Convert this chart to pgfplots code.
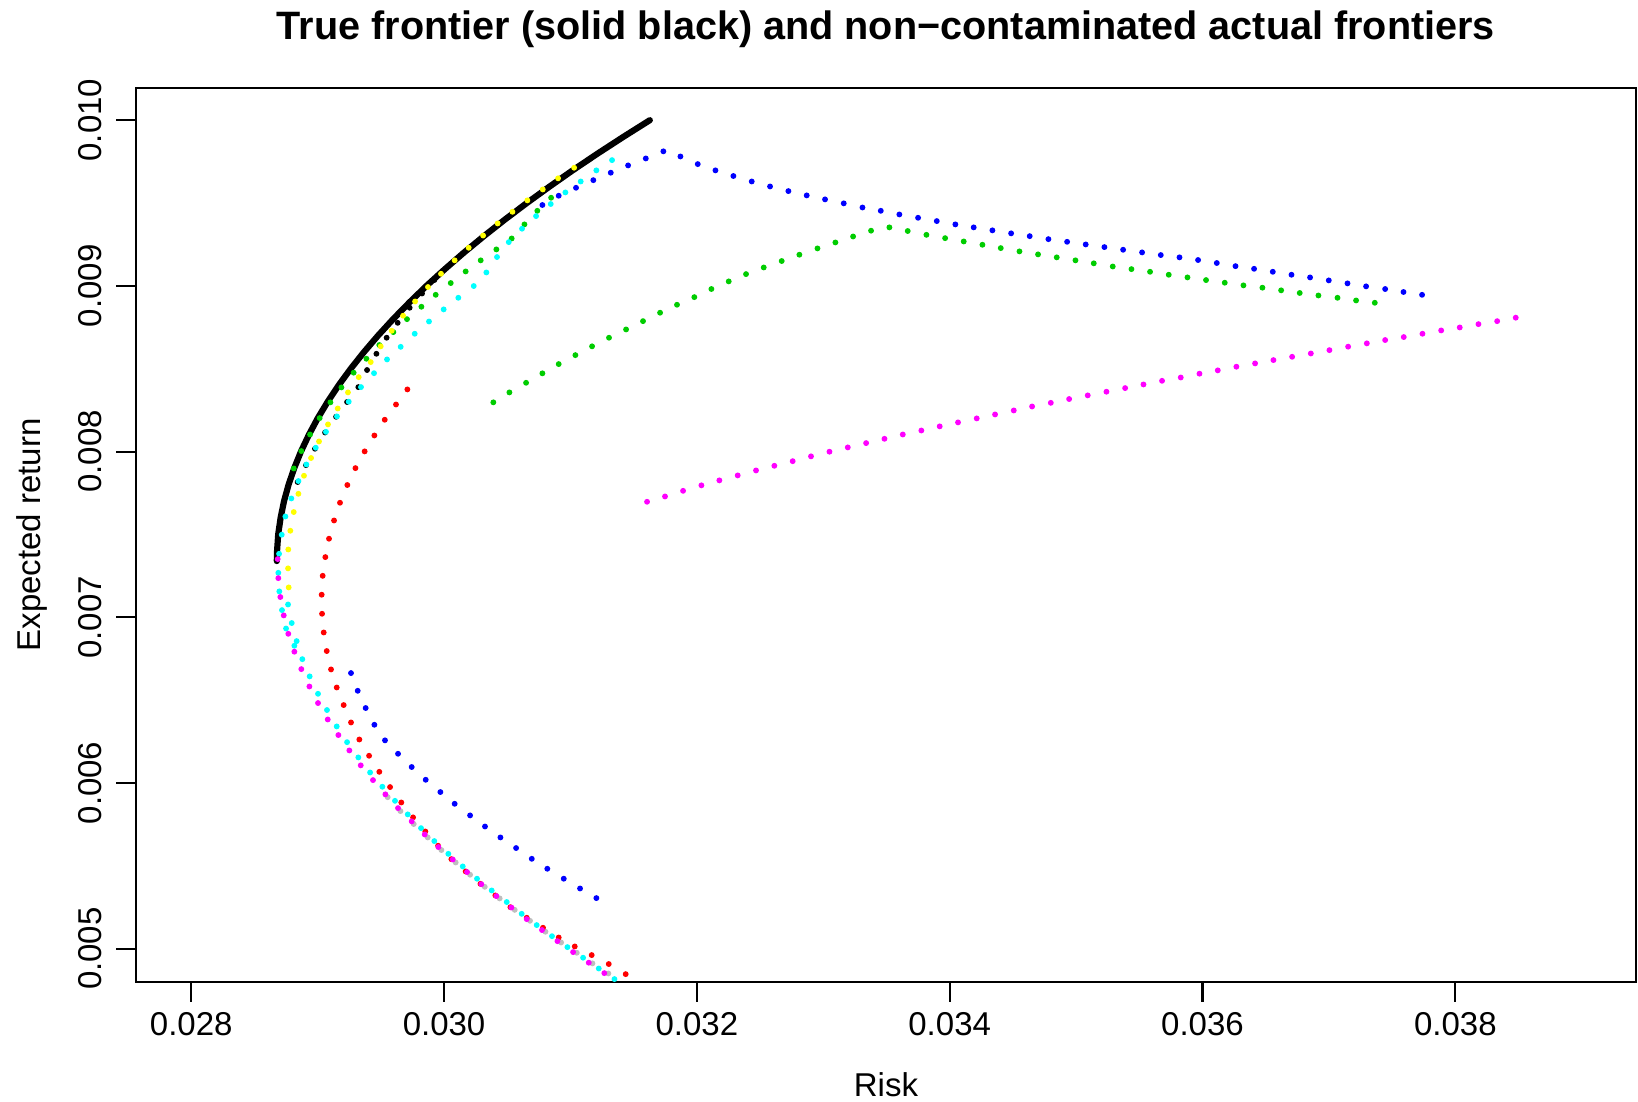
\documentclass[border=0pt]{standalone}
\usepackage{fontspec}
\setmainfont{Liberation Sans}
\usepackage{pgfplots}
\pgfplotsset{compat=1.18}
\definecolor{rgreen}{RGB}{0,205,0}
\definecolor{rgray}{RGB}{190,190,190}
\definecolor{rred}{RGB}{255,0,0}
\definecolor{rblue}{RGB}{0,0,255}
\definecolor{rcyan}{RGB}{0,255,255}
\definecolor{rmagenta}{RGB}{255,0,255}
\definecolor{ryellow}{RGB}{255,255,0}
\begin{document}
\fontsize{12}{14.4}\selectfont
\begin{tikzpicture}
\path[use as bounding box] (-49.4pt,-43.3pt) rectangle (546.2pt,357.1pt);
\begin{axis}[
  at={(0pt,0pt)}, anchor=south west,
  width=545.5pt, height=325.2pt, scale only axis,
  xmin=0.027562, xmax=0.03943, ymin=0.004798, ymax=0.010196,
  axis line style={line width=0.75pt},
  xtick={0.028,0.030,0.032,0.034,0.036,0.038},
  xticklabels={0.028,0.030,0.032,0.034,0.036,0.038},
  ytick={0.005,0.006,0.007,0.008,0.009,0.010},
  yticklabels={0.005,0.006,0.007,0.008,0.009,0.010},
  scaled ticks=false,
  tick align=outside, major tick length=7.1pt, tick pos=left,
  tick style={line width=0.75pt, black},
  xticklabel style={font=\fontsize{12}{14.4}\selectfont, anchor=base, yshift=-12.5pt},
  yticklabel style={font=\fontsize{12}{14.4}\selectfont, rotate=90, anchor=south, inner xsep=0pt, inner ysep=4.9pt},
  title={True frontier (solid black) and non\textminus contaminated actual frontiers},
  every axis title/.style={at={(axis description cs:0.5,1.0538)}, anchor=base, font=\bfseries\fontsize{14.4}{17}\selectfont},
  xlabel={Risk},
  ylabel={Expected return},
  every axis x label/.style={at={(axis description cs:0.5,-0.12823)}, anchor=base, font=\fontsize{12}{14.4}\selectfont},
  every axis y label/.style={at={(axis description cs:-0.06325,0.5)}, rotate=90, anchor=base, font=\fontsize{12}{14.4}\selectfont},
  mark size=0.85pt,
]
% true frontier
\addplot[black, line width=2.25pt, line cap=round, line join=round, no marks] coordinates {
(0.028677,0.007339)(0.028679,0.0074)(0.028688,0.0075)(0.028707,0.0076)(0.028734,0.0077)
(0.028770,0.0078)(0.028815,0.0079)(0.028868,0.0080)(0.028930,0.0081)(0.029000,0.0082)
(0.029079,0.0083)(0.029166,0.0084)(0.029262,0.0085)(0.029366,0.0086)(0.029478,0.0087)
(0.029598,0.0088)(0.029726,0.0089)(0.029861,0.0090)(0.030005,0.0091)(0.030156,0.0092)
(0.030315,0.0093)(0.030481,0.0094)(0.030655,0.0095)(0.030836,0.0096)(0.031023,0.0097)
(0.031218,0.0098)(0.031420,0.0099)(0.031628,0.0100)};
% black dots
\addplot[only marks, mark=*, black] coordinates {
(0.029923,0.009035)(0.029826,0.008954)(0.029728,0.008868)(0.029633,0.008777)(0.029546,0.008687)
(0.029465,0.008590)(0.029391,0.008492)(0.029322,0.008389)(0.029233,0.008299)(0.029146,0.008210)
(0.029059,0.008115)(0.028979,0.008017)(0.028908,0.007918)(0.028842,0.007816)};
% gray
\addplot[only marks, mark=*, rgray] coordinates {
(0.029554,0.005914)(0.029655,0.005830)(0.029760,0.005752)(0.029871,0.005671)(0.029979,0.005595)
(0.030092,0.005520)(0.030206,0.005446)(0.030322,0.005373)(0.030440,0.005303)(0.030559,0.005234)
(0.030680,0.005168)(0.030802,0.005102)(0.030926,0.005037)(0.031050,0.004975)(0.031174,0.004911)
(0.031300,0.004850)};
% red
\addplot[only marks, mark=*, rred] coordinates {
(0.029710,0.008375)(0.029620,0.008284)(0.029531,0.008192)(0.029449,0.008097)(0.029372,0.008001)
(0.029299,0.007900)(0.029235,0.007798)(0.029177,0.007691)(0.029130,0.007584)(0.029090,0.007474)
(0.029061,0.007363)(0.029040,0.007250)(0.029032,0.007136)(0.029035,0.007021)(0.029048,0.006908)
(0.029072,0.006796)(0.029106,0.006685)(0.029151,0.006576)(0.029206,0.006470)(0.029264,0.006365)
(0.029330,0.006262)(0.029407,0.006164)(0.029488,0.006067)(0.029573,0.005975)(0.029662,0.005882)
(0.029755,0.005792)(0.029852,0.005707)(0.029953,0.005621)(0.030058,0.005540)(0.030171,0.005466)
(0.030288,0.005391)(0.030406,0.005321)(0.030525,0.005250)(0.030654,0.005186)(0.030783,0.005126)
(0.030907,0.005067)(0.031034,0.005013)(0.031168,0.004961)(0.031303,0.004907)(0.031437,0.004846)
(0.031572,0.004796)};
% green
\addplot[only marks, mark=*, rgreen] coordinates {
(0.030847,0.009532)(0.030738,0.009453)(0.030636,0.009371)(0.030535,0.009286)(0.030414,0.009220)
(0.030290,0.009154)(0.030171,0.009087)(0.030053,0.009017)(0.029934,0.008946)(0.029821,0.008874)
(0.029707,0.008799)(0.029599,0.008721)(0.029488,0.008643)(0.029386,0.008560)(0.029285,0.008476)
(0.029188,0.008387)(0.029101,0.008297)(0.029016,0.008202)(0.028940,0.008103)(0.028871,0.008003)
(0.028811,0.007898)
(0.030390,0.008297)(0.030517,0.008357)(0.030649,0.008415)(0.030778,0.008472)(0.030907,0.008528)
(0.031039,0.008582)(0.031171,0.008635)(0.031305,0.008687)(0.031440,0.008737)(0.031574,0.008787)
(0.031709,0.008838)(0.031843,0.008886)(0.031980,0.008932)(0.032115,0.008981)(0.032252,0.009027)
(0.032389,0.009071)(0.032529,0.009111)(0.032671,0.009150)(0.032811,0.009188)(0.032954,0.009226)
(0.033096,0.009262)(0.033236,0.009298)(0.033378,0.009333)(0.033523,0.009353)(0.033668,0.009331)
(0.033816,0.009308)(0.033964,0.009288)(0.034111,0.009268)(0.034259,0.009248)(0.034404,0.009228)
(0.034552,0.009208)(0.034699,0.009190)(0.034847,0.009172)(0.034995,0.009154)(0.035140,0.009136)
(0.035290,0.009117)(0.035438,0.009101)(0.035585,0.009085)(0.035733,0.009067)(0.035881,0.009051)
(0.036028,0.009035)(0.036176,0.009019)(0.036324,0.009003)(0.036474,0.008989)(0.036622,0.008973)
(0.036769,0.008957)(0.036917,0.008942)(0.037068,0.008928)(0.037215,0.008912)(0.037363,0.008898)};
% blue
\addplot[only marks, mark=*, rblue] coordinates {
(0.030778,0.009488)(0.030907,0.009544)(0.031044,0.009592)(0.031181,0.009638)(0.031319,0.009683)
(0.031456,0.009727)(0.031596,0.009769)(0.031735,0.009812)(0.031870,0.009781)(0.032007,0.009735)
(0.032147,0.009697)(0.032289,0.009663)(0.032434,0.009630)(0.032579,0.009600)(0.032724,0.009572)
(0.032869,0.009546)(0.033014,0.009522)(0.033162,0.009498)(0.033310,0.009473)(0.033455,0.009453)
(0.033602,0.009431)(0.033750,0.009411)(0.033898,0.009391)(0.034045,0.009371)(0.034190,0.009353)
(0.034338,0.009335)(0.034486,0.009317)(0.034633,0.009300)(0.034781,0.009282)(0.034929,0.009266)
(0.035076,0.009250)(0.035224,0.009234)(0.035372,0.009218)(0.035522,0.009202)(0.035670,0.009186)
(0.035818,0.009172)(0.035965,0.009156)(0.036113,0.009138)(0.036261,0.009119)(0.036408,0.009103)
(0.036556,0.009085)(0.036704,0.009067)(0.036851,0.009051)(0.036999,0.009033)(0.037147,0.009015)
(0.037294,0.008997)(0.037445,0.008981)(0.037590,0.008963)(0.037737,0.008946)
(0.029264,0.006663)(0.029317,0.006556)(0.029380,0.006452)(0.029449,0.006351)(0.029533,0.006257)
(0.029636,0.006176)(0.029744,0.006096)(0.029855,0.006019)(0.029971,0.005945)(0.030084,0.005874)
(0.030206,0.005804)(0.030324,0.005737)(0.030446,0.005671)(0.030570,0.005607)(0.030694,0.005542)
(0.030817,0.005482)(0.030947,0.005422)(0.031076,0.005363)(0.031205,0.005305)};
% cyan
\addplot[only marks, mark=*, rcyan] coordinates {
(0.031329,0.009759)(0.031205,0.009697)(0.031081,0.009630)(0.030960,0.009564)(0.030844,0.009494)
(0.030728,0.009421)(0.030617,0.009345)(0.030512,0.009264)(0.030419,0.009174)(0.030335,0.009081)
(0.030235,0.008999)(0.030113,0.008928)(0.029997,0.008858)(0.029881,0.008785)(0.029768,0.008711)
(0.029657,0.008632)(0.029549,0.008556)(0.029446,0.008473)(0.029343,0.008389)(0.029246,0.008301)
(0.029153,0.008212)(0.029066,0.008119)(0.028985,0.008023)(0.028911,0.007922)(0.028848,0.007822)
(0.028792,0.007717)(0.028745,0.007608)(0.028716,0.007498)(0.028695,0.007383)(0.028689,0.007268)
(0.028697,0.007156)(0.028718,0.007043)(0.028750,0.006932)(0.028816,0.006828)
(0.028766,0.007077)(0.028795,0.006965)(0.028834,0.006856)
(0.028879,0.006747)(0.028937,0.006643)(0.029003,0.006538)(0.029074,0.006440)(0.029151,0.006341)
(0.029233,0.006246)(0.029322,0.006154)(0.029415,0.006063)(0.029512,0.005977)(0.029612,0.005892)
(0.029713,0.005810)(0.029818,0.005727)(0.029923,0.005649)(0.030034,0.005572)(0.030148,0.005496)
(0.030261,0.005422)(0.030377,0.005351)(0.030496,0.005281)(0.030614,0.005210)(0.030733,0.005142)
(0.030854,0.005075)(0.030976,0.005009)(0.031100,0.004945)(0.031224,0.004880)(0.031348,0.004816)};
% magenta
\addplot[only marks, mark=*, rmagenta] coordinates {
(0.028684,0.007351)(0.028689,0.007236)(0.028705,0.007122)(0.028732,0.007011)(0.028768,0.006900)
(0.028816,0.006792)(0.028871,0.006687)(0.028935,0.006582)(0.029003,0.006482)(0.029080,0.006383)
(0.029164,0.006289)(0.029251,0.006196)(0.029341,0.006106)(0.029438,0.006017)(0.029536,0.005931)
(0.029636,0.005848)(0.029744,0.005768)(0.029847,0.005689)(0.029955,0.005613)(0.030069,0.005538)
(0.030182,0.005462)(0.030295,0.005389)(0.030414,0.005317)(0.030533,0.005248)(0.030654,0.005178)
(0.030775,0.005112)(0.030897,0.005045)(0.031021,0.004979)(0.031145,0.004915)(0.031268,0.004852)
(0.031392,0.004794)
(0.031606,0.007697)(0.031748,0.007729)(0.031891,0.007763)(0.032036,0.007796)(0.032178,0.007826)
(0.032323,0.007856)(0.032468,0.007886)(0.032613,0.007914)(0.032758,0.007942)(0.032903,0.007971)
(0.033049,0.007999)(0.033194,0.008025)(0.033339,0.008051)(0.033484,0.008077)(0.033629,0.008103)
(0.033776,0.008127)(0.033921,0.008152)(0.034066,0.008176)(0.034214,0.008200)(0.034359,0.008224)
(0.034507,0.008248)(0.034652,0.008272)(0.034800,0.008294)(0.034945,0.008317)(0.035092,0.008339)
(0.035240,0.008361)(0.035388,0.008383)(0.035533,0.008405)(0.035680,0.008427)(0.035828,0.008447)
(0.035976,0.008470)(0.036121,0.008490)(0.036268,0.008512)(0.036416,0.008532)(0.036561,0.008552)
(0.036709,0.008572)(0.036857,0.008592)(0.037004,0.008612)(0.037152,0.008633)(0.037300,0.008653)
(0.037445,0.008673)(0.037592,0.008691)(0.037740,0.008711)(0.037888,0.008731)(0.038035,0.008749)
(0.038183,0.008769)(0.038331,0.008787)(0.038478,0.008808)};
% yellow
\addplot[only marks, mark=*, ryellow] coordinates {
(0.031029,0.009713)(0.030902,0.009649)(0.030781,0.009582)(0.030659,0.009516)(0.030541,0.009447)
(0.030424,0.009377)(0.030309,0.009304)(0.030195,0.009230)(0.030084,0.009154)(0.029976,0.009073)
(0.029873,0.008993)(0.029771,0.008906)(0.029676,0.008820)(0.029586,0.008729)(0.029499,0.008635)
(0.029420,0.008540)(0.029325,0.008449)(0.029240,0.008357)(0.029159,0.008260)(0.029082,0.008164)
(0.029011,0.008061)(0.028948,0.007961)(0.028892,0.007854)(0.028848,0.007745)(0.028811,0.007635)
(0.028784,0.007522)(0.028768,0.007409)(0.028766,0.007295)(0.028771,0.007180)};
\end{axis}
\end{tikzpicture}
\end{document}
